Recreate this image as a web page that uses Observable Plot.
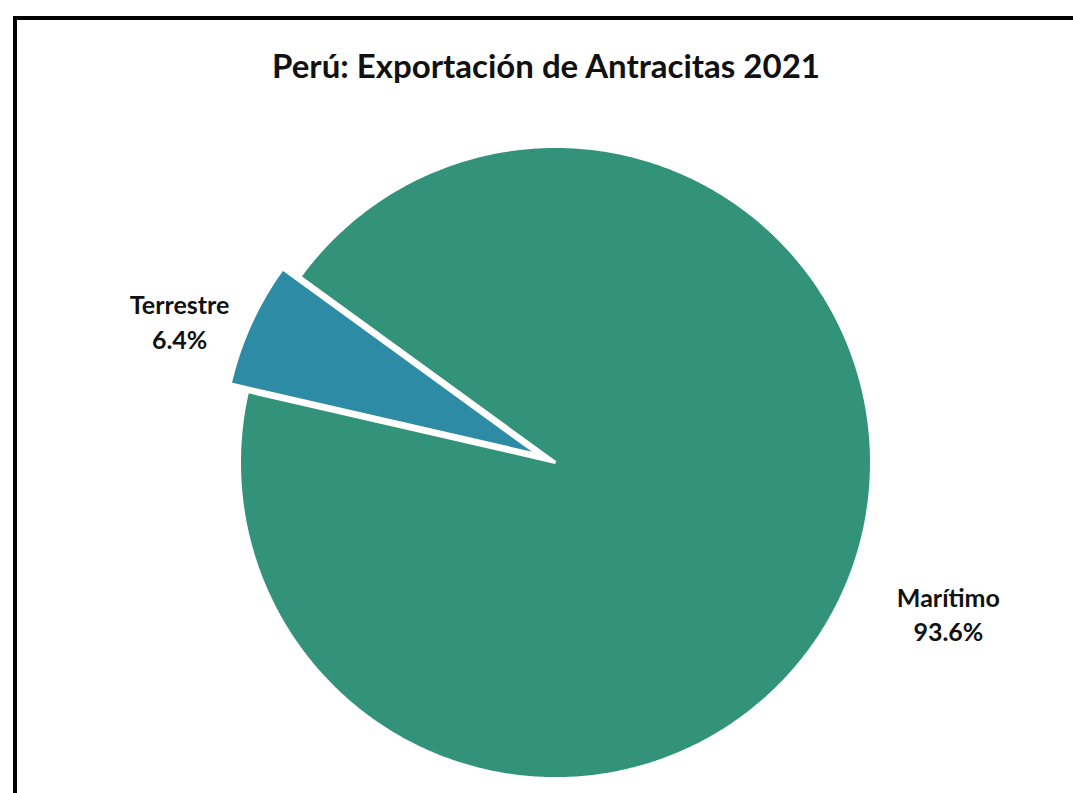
<!DOCTYPE html>
<html><head><meta charset="utf-8">
<script src="https://cdn.jsdelivr.net/npm/d3@7"></script>
<script src="https://cdn.jsdelivr.net/npm/@observablehq/plot@0.6"></script>
<style>
body{margin:0;background:#fff;}
#wrap{position:relative;width:1073px;height:793px;overflow:hidden;background:#fff;font-family:Lato,sans-serif}
#frame{position:absolute;left:13px;top:16px;width:1200px;height:1000px;border:4px solid #000;box-sizing:border-box}
#title{position:absolute;left:0;width:1092px;top:45px;text-align:center;font-weight:bold;font-size:33px;color:#111;line-height:40px}
#chart{position:absolute;left:0;top:0}
</style></head><body>
<div id="wrap"><div id="frame"></div><div id="chart"></div><div id="title">Perú: Exportación de Antracitas 2021</div></div>
<script>
const categories = ["Marítimo", "Terrestre"];
const shares = [93.6, 6.4];
const colors = ["#33937A", "#2E8BA6"];
const explode = [0, 0.06];
const startAngle = 306; // degrees clockwise from top

const total = d3.sum(shares);
const rad = d => d * Math.PI / 180;
const points = [];
const slices = [];
let a = startAngle;
categories.forEach((c, i) => {
  const span = shares[i] / total * 360;
  const a0 = a, a1 = a + span, mid = (a0 + a1) / 2;
  const ox = explode[i] * Math.sin(rad(mid)), oy = explode[i] * Math.cos(rad(mid));
  points.push({slice: c, u: ox, v: oy});
  const n = Math.max(2, Math.ceil(span * 2));
  for (let k = 0; k <= n; k++) {
    const t = a0 + span * k / n;
    points.push({slice: c, u: ox + Math.sin(rad(t)), v: oy + Math.cos(rad(t))});
  }
  slices.push({slice: c, mid, share: shares[i], label: `${c}\n${shares[i].toFixed(1)}%`});
  a = a1;
});
const labelR = 1.3;
const lab = s => ({...s, u: labelR * Math.sin(rad(s.mid)), v: labelR * Math.cos(rad(s.mid))});

const R = 316, cx = 555, cy = 462, W = 1073, H = 793;
const chart = Plot.plot({
  width: W, height: H, margin: 0,
  x: {domain: [-cx / R, (W - cx) / R], axis: null},
  y: {domain: [-(H - cy) / R, cy / R], axis: null},
  color: {domain: categories, range: colors},
  style: {background: "transparent"},
  marks: [
    Plot.line(points, {x: "u", y: "v", z: "slice", fill: "slice", stroke: "white", strokeWidth: 3, strokeLinejoin: "miter", curve: "linear-closed"}),
    Plot.text([lab(slices[1])], {x: "u", y: "v", text: "label", dx: -2, dy: 28, fontSize: 25, fontWeight: "bold", fontFamily: "Lato", lineHeight: 1.38, fill: "#111"}),
    Plot.text([lab(slices[0])], {x: "u", y: "v", text: "label", dx: 19, dy: -20, fontSize: 25, fontWeight: "bold", fontFamily: "Lato", lineHeight: 1.38, fill: "#111"})
  ]
});
document.getElementById("chart").appendChild(chart);
</script>
</body></html>
